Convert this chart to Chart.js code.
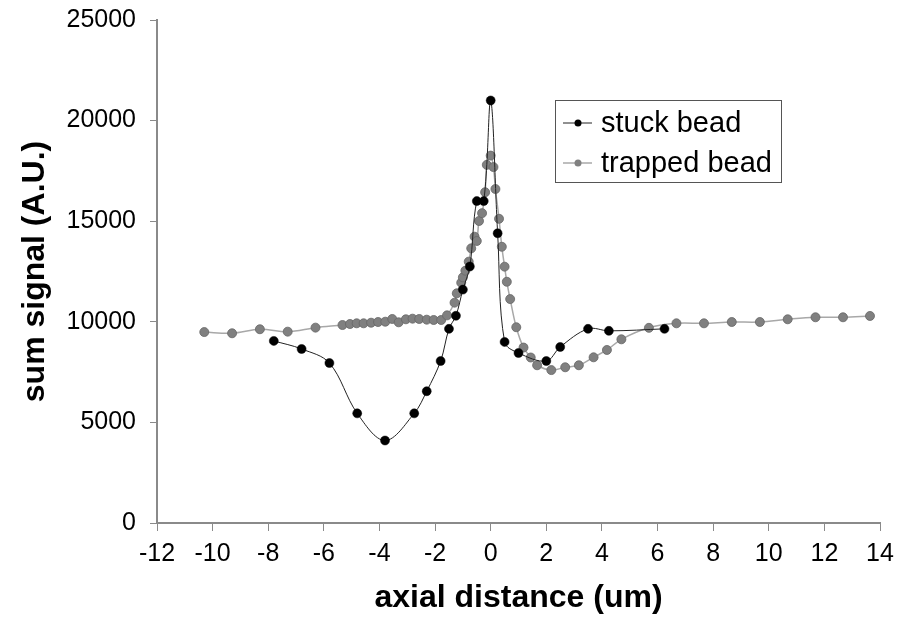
<!DOCTYPE html>
<html>
<head>
<meta charset="utf-8">
<script src="https://cdn.jsdelivr.net/npm/chart.js@4.4.1/dist/chart.umd.min.js"></script>
<style>
  html, body { margin: 0; padding: 0; background: #fff; }
</style>
</head>
<body>
<canvas id="beadChart" width="904" height="623"></canvas>
<script>
// stuck bead (black)
const stuckX = [-7.8, -6.8, -5.8, -4.8, -3.8, -2.75, -2.3, -1.8, -1.5, -1.25, -1.0, -0.75, -0.5, -0.25, 0, 0.25, 0.5, 1.0, 2.0, 2.5, 3.5, 4.25, 6.25];
const stuckY = [9050, 8650, 7950, 5450, 4100, 5450, 6550, 8050, 9650, 10300, 11600, 12750, 16000, 16000, 21000, 14400, 9000, 8450, 8050, 8750, 9650, 9550, 9650];

// trapped bead (gray)
const trappedX = [-10.3, -9.3, -8.3, -7.3, -6.3, -5.33, -5.06, -4.82, -4.57, -4.3, -4.05, -3.79, -3.54, -3.31, -3.05, -2.81, -2.57, -2.3, -2.05, -1.78,
  -1.57, -1.3, -1.22, -1.06, -1.0, -0.91, -0.79, -0.7, -0.58, -0.5, -0.42, -0.31, -0.2, -0.14, 0, 0.1, 0.17, 0.3, 0.4, 0.5,
  0.58, 0.7, 0.92, 1.18, 1.44, 1.67, 2.18, 2.68, 3.17, 3.7, 4.18, 4.7, 5.69, 6.68, 7.67, 8.67, 9.68, 10.68, 11.68, 12.67, 13.64];
const trappedY = [9490, 9430, 9630, 9510, 9710, 9840, 9890, 9925, 9925, 9955, 9990, 10005, 10140, 9975, 10125, 10155, 10140, 10105, 10090, 10090,
  10320, 10950, 11415, 11945, 12210, 12540, 12990, 13650, 14230, 14015, 15010, 15400, 16440, 17800, 18260, 17690, 16600, 15120, 13730, 12740,
  11990, 11130, 9730, 8720, 8225, 7840, 7600, 7740, 7840, 8235, 8600, 9130, 9700, 9925, 9925, 9990, 9990, 10125, 10225, 10225, 10290];

const xMin = -12, xMax = 14, xStep = 2;
const yMin = 0, yMax = 25000, yStep = 5000;

const fontFamily = "'Liberation Sans', Arial, sans-serif";
const axisColor = "#8a8a8a";

function toPoints(xs, ys) {
  return xs.map((x, i) => ({ x: x, y: ys[i] }));
}

// legend drawn as a boxed key in the upper right, like the original
const boxLegend = {
  id: "boxLegend",
  afterDraw(chart) {
    const ctx = chart.ctx;
    ctx.save();
    ctx.strokeStyle = "#555";
    ctx.lineWidth = 1;
    ctx.strokeRect(555.5, 100.5, 226, 82);
    ctx.font = "29px " + fontFamily;
    ctx.textBaseline = "middle";
    ctx.textAlign = "left";
    chart.data.datasets.forEach((ds, i) => {
      const y = 123 + i * 40;
      ctx.strokeStyle = ds.borderColor;
      ctx.lineWidth = ds.borderWidth;
      ctx.beginPath();
      ctx.moveTo(563, y);
      ctx.lineTo(592, y);
      ctx.stroke();
      ctx.beginPath();
      ctx.arc(578, y, 3.5, 0, Math.PI * 2);
      ctx.fillStyle = ds.pointBackgroundColor;
      ctx.fill();
      ctx.fillStyle = "#000";
      ctx.fillText(ds.label, 601, y + 1);
    });
    ctx.restore();
  },
};

const ctx = document.getElementById("beadChart").getContext("2d");
new Chart(ctx, {
  type: "scatter",
  data: {
    datasets: [
      {
        label: "stuck bead",
        data: toPoints(stuckX, stuckY),
        showLine: true,
        borderColor: "#222",
        borderWidth: 1,
        tension: 0.35,
        pointRadius: 4.5,
        pointBackgroundColor: "#000",
        pointBorderColor: "#000",
        pointBorderWidth: 0.5,
      },
      {
        label: "trapped bead",
        data: toPoints(trappedX, trappedY),
        showLine: true,
        borderColor: "#a8a8a8",
        borderWidth: 1.5,
        tension: 0.35,
        pointRadius: 4.5,
        pointBackgroundColor: "#808080",
        pointBorderColor: "#666",
        pointBorderWidth: 0.8,
      },
    ],
  },
  options: {
    responsive: false,
    animation: false,
    clip: false,
    layout: { padding: { top: 20, right: 24, left: 0, bottom: 0 } },
    plugins: {
      legend: { display: false },
      tooltip: { enabled: false },
    },
    scales: {
      x: {
        type: "linear",
        min: xMin,
        max: xMax,
        afterFit(scale) {
          scale.height = 100;
        },
        ticks: {
          stepSize: xStep,
          color: "#000",
          padding: 8,
          maxRotation: 0,
          font: { family: fontFamily, size: 25 },
        },
        grid: {
          drawOnChartArea: false,
          drawTicks: true,
          tickLength: 8,
          color: axisColor,
          lineWidth: 1,
        },
        border: { display: true, color: axisColor, width: 2 },
        title: {
          display: true,
          text: "axial distance (um)",
          color: "#000",
          padding: { top: 0, bottom: 6 },
          font: { family: fontFamily, size: 32, weight: "bold" },
        },
      },
      y: {
        type: "linear",
        min: yMin,
        max: yMax,
        afterFit(scale) {
          scale.width = 157;
          // tick padding would otherwise push the plot top down
          scale.paddingTop = 0;
          scale.paddingBottom = 0;
        },
        ticks: {
          stepSize: yStep,
          color: "#000",
          padding: 14,
          callback: (v) => String(v),
          font: { family: fontFamily, size: 25 },
        },
        grid: {
          drawOnChartArea: false,
          drawTicks: true,
          tickLength: 7,
          color: axisColor,
          lineWidth: 1,
        },
        border: { display: true, color: axisColor, width: 2 },
        title: {
          display: true,
          text: "sum signal (A.U.)",
          color: "#000",
          padding: { top: 16, bottom: 0 },
          font: { family: fontFamily, size: 32, weight: "bold" },
        },
      },
    },
  },
  plugins: [boxLegend],
});
</script>
</body>
</html>
